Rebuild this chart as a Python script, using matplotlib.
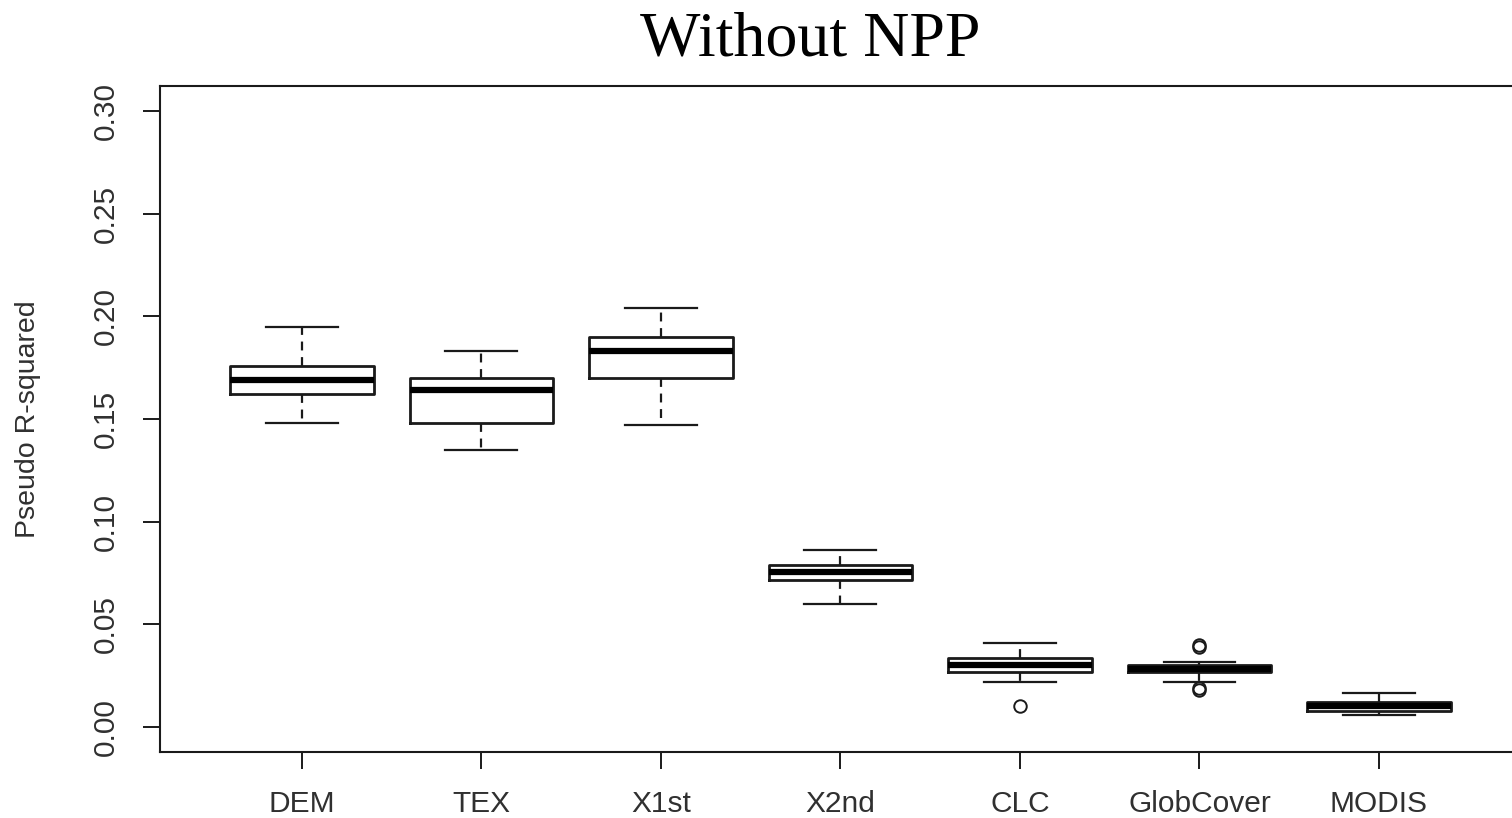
import matplotlib.pyplot as plt

# values (Pseudo R-squared, without NPP)
labels = ['DEM', 'TEX', 'X1st', 'X2nd', 'CLC', 'GlobCover', 'MODIS']
whis_lo = [0.148, 0.135, 0.147, 0.060, 0.022, 0.022, 0.006]
q1 = [0.162, 0.148, 0.170, 0.0716, 0.027, 0.027, 0.008]
medians = [0.169, 0.164, 0.183, 0.0755, 0.030, 0.028, 0.010]
q3 = [0.176, 0.170, 0.190, 0.079, 0.0336, 0.030, 0.012]
whis_hi = [0.195, 0.183, 0.204, 0.086, 0.041, 0.0317, 0.0166]
outliers = [[], [], [], [], [0.010], [0.040, 0.039, 0.019, 0.018], []]

stats = []
for i, name in enumerate(labels):
    stats.append({'label': name, 'whislo': whis_lo[i], 'q1': q1[i], 'med': medians[i],
                  'q3': q3[i], 'whishi': whis_hi[i], 'fliers': outliers[i]})

plt.rcParams['font.family'] = ['Liberation Sans', 'DejaVu Sans']
fig = plt.figure(figsize=(15.12, 8.18), dpi=100)
ax = fig.add_axes([160 / 1512, 66 / 818, (1519 - 160) / 1512, (752 - 86) / 818])

edge = '#1a1a1a'
ax.bxp(stats, positions=range(1, 8), widths=0.8, capwidths=0.4,
       boxprops=dict(color=edge, linewidth=2.0),
       medianprops=dict(color='black', linewidth=4.5, solid_capstyle='butt'),
       whiskerprops=dict(color=edge, linewidth=1.6, linestyle=(0, (4, 3))),
       capprops=dict(color=edge, linewidth=1.6),
       flierprops=dict(marker='o', markerfacecolor='none', markeredgecolor=edge,
                       markersize=9, markeredgewidth=1.4))

ax.set_xlim(0.21, 7.78)
ax.set_ylim(-0.0122, 0.3122)
ax.set_yticks([0.0, 0.05, 0.10, 0.15, 0.20, 0.25, 0.30])
ax.set_yticklabels(['0.00', '0.05', '0.10', '0.15', '0.20', '0.25', '0.30'],
                   rotation=90, va='center')
ax.set_xticks(range(1, 8))
ax.set_xticklabels(labels)
ax.tick_params(axis='both', length=12, width=1.4, color=edge, labelsize=21.5,
               labelcolor='#303030')
ax.tick_params(axis='x', pad=15)
ax.tick_params(axis='y', pad=17)
for sp in ax.spines.values():
    sp.set_linewidth(1.5)
    sp.set_color(edge)

fig.text(28 / 1512, 1 - 419 / 818, 'Pseudo R-squared', rotation=90, ha='center',
         va='center', fontsize=20.5, color='#303030')
fig.text(810 / 1512, 1 - 40 / 818, 'Without NPP', ha='center', va='center',
         fontsize=46, family='Liberation Serif', color='black')

plt.savefig('out.png', dpi=100)
